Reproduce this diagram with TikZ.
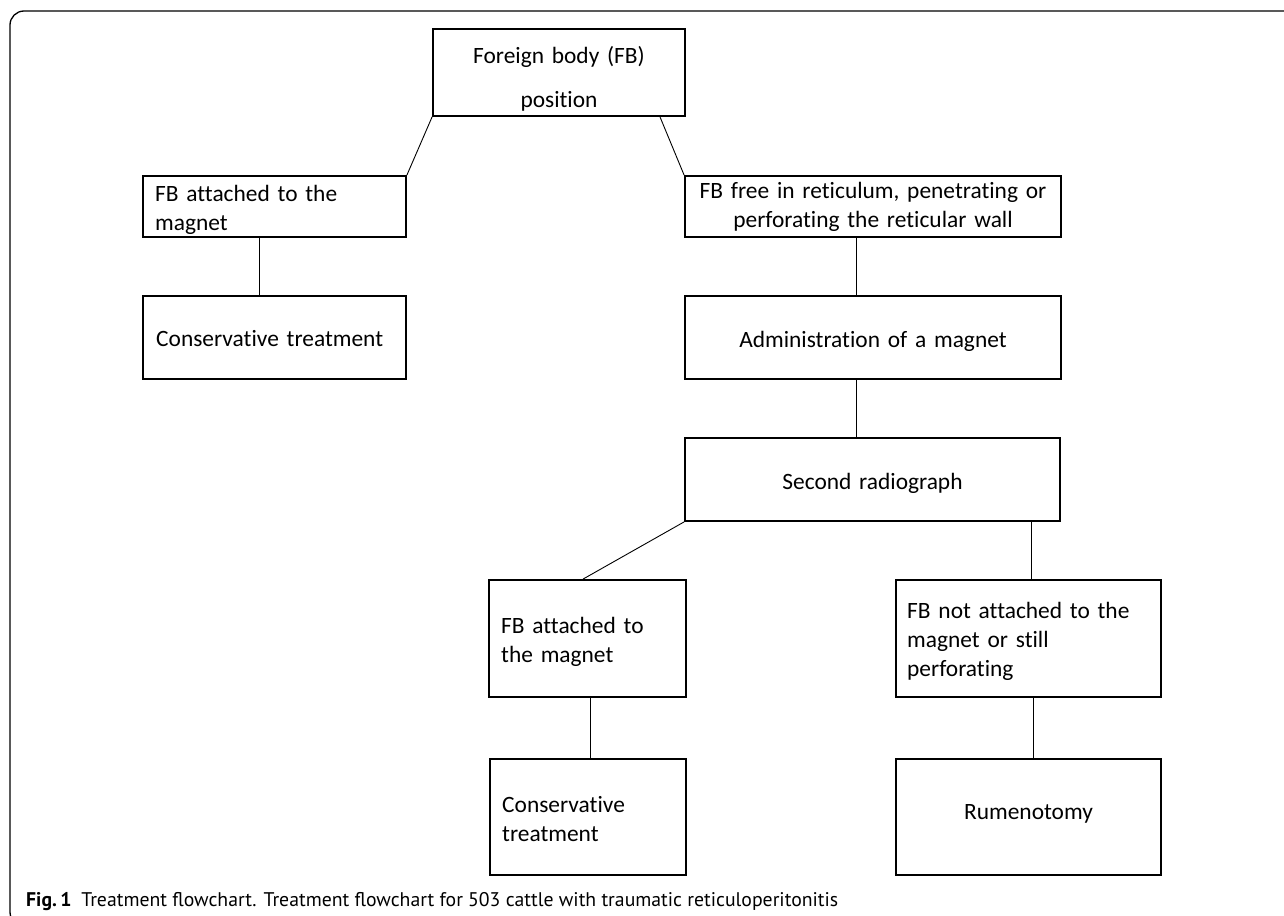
\documentclass[tikz,border=0pt]{standalone}
\usepackage{fontspec}
\setmainfont{Carlito}[Ligatures=NoCommon]
\newfontfamily\capfont{PT Sans}
\usepackage{graphicx}
\begin{document}
\begin{tikzpicture}[x=1pt,y=-1pt,
  box/.style={draw, line width=1.8pt, rectangle, inner sep=0pt},
  txt/.style={inner sep=0pt, font=\fontsize{23.4}{29}\selectfont},
  ltxt/.style={txt, anchor=base west, align=left},
  ctxt/.style={txt, anchor=base, align=center},
  conn/.style={line width=0.9pt},
  frame/.style={line width=1.3pt, rounded corners=14pt}
]
\useasboundingbox (0,0) rectangle (1284,915);
\draw[frame] (1300,926) -- (10,926) -- (10,11) -- (1300,11);

% boxes
\node[box, minimum width=252pt, minimum height=87pt]  (top) at (559,72.5) {};
\node[box, minimum width=263pt, minimum height=61pt]  (lb1) at (274.5,206.5) {};
\node[box, minimum width=263pt, minimum height=83pt]  (lc1) at (274.5,337.5) {};
\node[box, minimum width=376pt, minimum height=61pt]  (rb1) at (873,206.5) {};
\node[box, minimum width=376pt, minimum height=83pt]  (adm) at (873,337.5) {};
\node[box, minimum width=375pt, minimum height=83pt]  (sec) at (872.5,479.5) {};
\node[box, minimum width=197pt, minimum height=117pt] (lfa) at (587.5,638.5) {};
\node[box, minimum width=265pt, minimum height=117pt] (fbn) at (1028.5,638.5) {};
\node[box, minimum width=196pt, minimum height=116pt] (lc2) at (588,817) {};
\node[box, minimum width=265pt, minimum height=116pt] (rum) at (1028.5,817) {};

% texts
\node[ctxt, text width=240pt] (ttop) at (559,64) {Foreign body (FB)\\[15pt]position};
\node[ltxt, text width=240pt] (tlb1) at (155,201) {FB attached to the\\magnet};
\node[ltxt, text width=240pt] (tlc1) at (156,346) {Conservative treatment};
\node[ctxt, text width=370pt] (trb1) at (873,198) {FB free in reticulum, penetrating or\\perforating the reticular wall};
\node[ctxt, text width=370pt] (tadm) at (873,347) {Administration of a magnet};
\node[ctxt, text width=370pt] (tsec) at (872.5,489) {Second radiograph};
\node[ltxt, text width=180pt] (tlfa) at (501,633) {FB attached to\\the magnet};
\node[ltxt, text width=250pt] (tfbn) at (907,618) {FB not attached to the\\magnet or still\\perforating};
\node[ltxt, text width=180pt] (tlc2) at (502,812) {Conservative\\treatment};
\node[ctxt, text width=260pt] (trum) at (1028.5,819) {Rumenotomy};

% connectors
\draw[conn] (top.south west) -- (lb1.north east);
\draw[conn] ([xshift=101pt]top.south) -- (rb1.north west);
\draw[conn] ([xshift=-15.5pt]lb1.south) -- ([xshift=-15.5pt]lc1.north);
\draw[conn] ([xshift=-17pt]rb1.south) -- ([xshift=-17pt]adm.north);
\draw[conn] ([xshift=-17pt]adm.south) -- ([xshift=-16.5pt]sec.north);
\draw[conn] (sec.south west) -- ([xshift=-4.5pt]lfa.north);
\draw[conn] ([xshift=158.5pt]sec.south) -- ([xshift=2.5pt]fbn.north);
\draw[conn] ([xshift=2.5pt]lfa.south) -- ([xshift=2pt]lc2.north);
\draw[conn] ([xshift=4.5pt]fbn.south) -- ([xshift=4.5pt]rum.north);

\node[anchor=base west, inner sep=0pt] (cap) at (26,906)
  {\resizebox{812pt}{!}{\capfont\fontsize{17}{20}\selectfont\textbf{Fig.\,1}\hspace{0.5em}Treatment flowchart. Treatment flowchart for 503 cattle with traumatic reticuloperitonitis}};
\end{tikzpicture}
\end{document}
